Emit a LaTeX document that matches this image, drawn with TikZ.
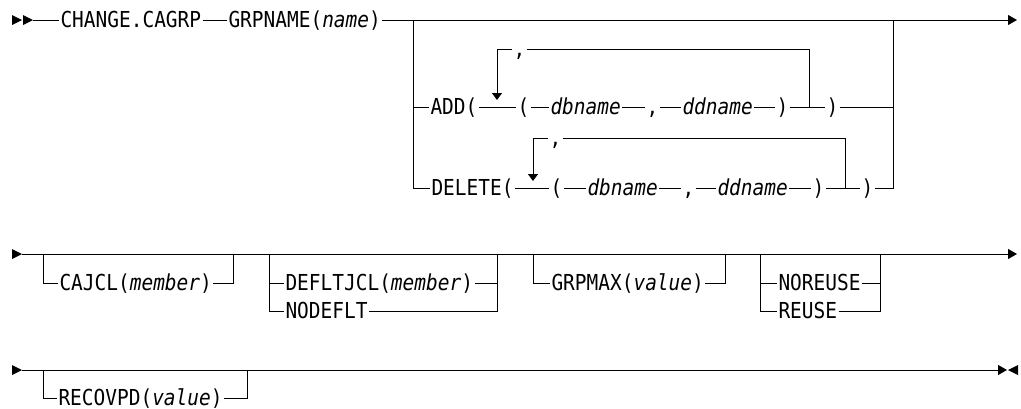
\documentclass[tikz,border=0pt]{standalone}
\usepackage{fontspec}
\usepackage{tikz}
\usetikzlibrary{arrows.meta}
\newfontfamily\rrfont[FakeStretch=0.885]{DejaVu Sans Mono}

\begin{document}
\begin{tikzpicture}[x=1pt, y=-1pt, line width=1pt,
		kw/.style={anchor=west, inner xsep=1pt, inner ysep=0pt, text height=16pt, text depth=2pt,
			font=\rrfont\fontsize{22}{26}\selectfont},
		endtip/.style={-{Triangle[width=10pt,length=9pt]}},
		looptip/.style={-{Triangle[width=10pt,length=7pt]}, shorten >=7pt},
		fwd/.pic={\fill (0,-5) -- (10,0) -- (0,5) -- cycle;},
		bwd/.pic={\fill (0,-5) -- (-10,0) -- (0,5) -- cycle;}]
	\useasboundingbox (0,0) rectangle (1021,408);

	% first line: command and group name
	\pic at (12,20) {fwd};
	\pic at (23,20) {fwd};
	\coordinate (r1a) at (33,20);
	\coordinate (r1e) at (1017,20);
	\node[kw] (chg) at (59,20) {CHANGE.CAGRP};
	\node[kw] (grp) at (227,20) {GRPNAME(\textit{name})};
	\draw[endtip] (r1a) -- (chg) -- (grp) -- (r1e);
	\coordinate (b1l) at (413,20);
	\coordinate (b1r) at (893,20);

	% ADD branch with repeat loop
	\node[kw] (add) at (429,107) {ADD(};
	\coordinate (addj) at (497,107);
	\coordinate (addk) at (809,107);
	\node[kw] (addlp) at (516,107) {(};
	\node[kw] (adddb) at (549,107) {\textit{dbname}};
	\node[kw] (addcm) at (645,107) {,};
	\node[kw] (adddd) at (681,107) {\textit{ddname}};
	\node[kw] (addrp) at (775,107) {)};
	\node[kw] (addrp2) at (825,107) {)};
	\draw (b1l) |- (add) -- (addlp) -- (adddb) -- (addcm) -- (adddd) -- (addrp) -- (addrp2) -| (b1r);
	\coordinate (addlt) at (497,49);
	\coordinate (addrt) at (809,49);
	\node[kw] (addrep) at (512,49) {,};
	\draw[looptip] (addlt) -- (addj);
	\draw (addlt) -- (addrep) -- (addrt) -- (addk);

	% DELETE branch with repeat loop
	\node[kw] (del) at (430,188) {DELETE(};
	\coordinate (delj) at (533,188);
	\coordinate (delk) at (845,188);
	\node[kw] (dellp) at (549,188) {(};
	\node[kw] (deldb) at (586,188) {\textit{dbname}};
	\node[kw] (delcm) at (681,188) {,};
	\node[kw] (deldd) at (716,188) {\textit{ddname}};
	\node[kw] (delrp) at (811,188) {)};
	\node[kw] (delrp2) at (860,188) {)};
	\draw (b1l) |- (del) -- (dellp) -- (deldb) -- (delcm) -- (deldd) -- (delrp) -- (delrp2) -| (b1r);
	\coordinate (dellt) at (533,138);
	\coordinate (delrt) at (845,138);
	\node[kw] (delrep) at (548,138) {,};
	\draw[looptip] (dellt) -- (delj);
	\draw (dellt) -- (delrep) -- (delrt) -- (delk);

	% second line: optional keywords
	\pic at (12,254) {fwd};
	\coordinate (r2a) at (22,254);
	\coordinate (r2e) at (1017,254);
	\draw[endtip] (r2a) -- (r2e);
	\coordinate (cjl) at (43,254);
	\coordinate (cjr) at (233,254);
	\node[kw] (cajcl) at (58,283) {CAJCL(\textit{member})};
	\draw (cjl) |- (cajcl) -| (cjr);
	\coordinate (dfl) at (269,254);
	\coordinate (dfr) at (497,254);
	\node[kw] (deflt) at (284,283) {DEFLTJCL(\textit{member})};
	\node[kw] (nodeflt) at (284,311) {NODEFLT};
	\draw (dfl) |- (deflt) -| (dfr);
	\draw (dfl) |- (nodeflt) -| (dfr);
	\coordinate (gml) at (533,254);
	\coordinate (gmr) at (725,254);
	\node[kw] (grpmax) at (550,283) {GRPMAX(\textit{value})};
	\draw (gml) |- (grpmax) -| (gmr);
	\coordinate (rul) at (760,254);
	\coordinate (rur) at (880,254);
	\node[kw] (noreuse) at (777,283) {NOREUSE};
	\node[kw] (reuse) at (777,311) {REUSE};
	\draw (rul) |- (noreuse) -| (rur);
	\draw (rul) |- (reuse) -| (rur);

	% third line: recovery period
	\pic at (12,370) {fwd};
	\coordinate (r3a) at (22,370);
	\coordinate (r3e) at (1007,370);
	\draw[endtip] (r3a) -- (r3e);
	\pic at (1018,370) {bwd};
	\coordinate (rcl) at (43,370);
	\coordinate (rcr) at (247,370);
	\node[kw] (recov) at (57,398) {RECOVPD(\textit{value})};
	\draw (rcl) |- (recov) -| (rcr);
\end{tikzpicture}
\end{document}
